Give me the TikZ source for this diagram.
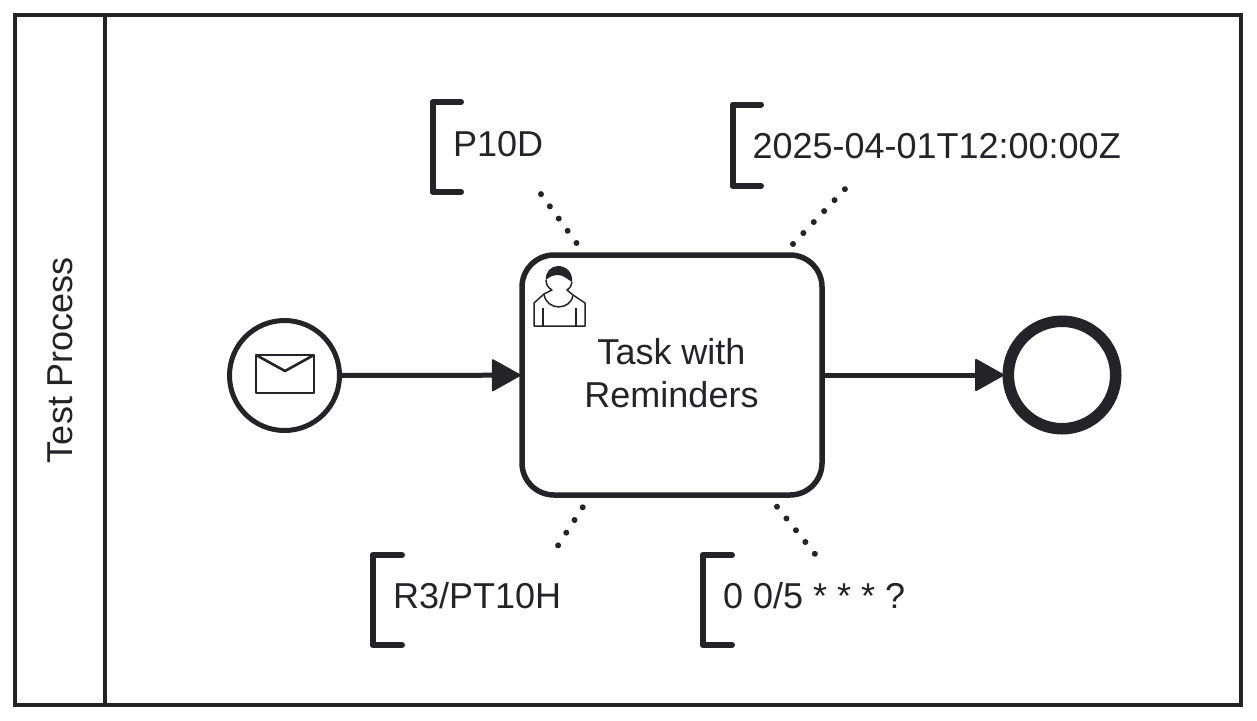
\documentclass[tikz,border=0pt]{standalone}
\usepackage{fontspec}
\setmainfont{Liberation Sans}
\usetikzlibrary{arrows.meta}
\definecolor{ink}{HTML}{22242A}

\begin{document}
\begin{tikzpicture}[x=1pt,y=-1pt,
  every node/.style={text=ink,font=\fontsize{36}{43}\selectfont},
  event/.style={draw=ink,circle,minimum size=#1,inner sep=0pt},
  flow/.style={draw=ink,line width=5pt,shorten >=-1.5pt,-{Triangle[length=30pt,width=33pt,line width=2pt,round]}},
  bracket/.style={draw=ink,line width=6pt,line cap=round,line join=round},
  assoc/.style={draw=ink,line width=6pt,line cap=round,dash pattern=on 0.01pt off 15.09pt},
  icon/.style={draw=ink,line width=1.5pt,line join=round}]

  \useasboundingbox (0,0) rectangle (1257,720);

  % pool
  \node [draw=ink,line width=4.5pt,minimum width=1226pt,minimum height=690pt,inner sep=0pt] (pool) at (628,360) {};
  \draw [draw=ink,line width=4.5pt] (pool.north west -| 105,0) -- (pool.south west -| 105,0);
  \node [rotate=90] (poolname) at (60,360) {Test Process};

  % flow elements
  \node [event=110pt,line width=5pt] (start) at (284.5,375.5) {};
  \node [draw=ink,line width=5.5pt,rounded corners=32pt,minimum width=300pt,minimum height=240pt,inner sep=0pt] (task) at (672,375) {};
  \node [align=center] (taskname) at (671.5,373) {Task with\\Reminders};
  \node [event=107.5pt,line width=11.5pt] (end) at (1062,375) {};
  \draw [flow] (start) -- (task);
  \draw [flow] (task) -- (end);

  % envelope
  \draw [icon,line width=2.6pt] (256,355) rectangle (314,393);
  \draw [icon,line width=2.6pt] (256,355) -- (285,371) -- (314,355);

  % user
  \fill [ink] (546,280) .. controls (545,272) and (551,266) .. (558,266) .. controls (566,266) and (573,272) .. (572,282) .. controls (567,279) and (563,275) .. (558,275) .. controls (553,275) and (549,277) .. (546,280) -- cycle;
  \draw [icon] (546,280) .. controls (546,284) and (548,288) .. (552,290) -- (544,294) -- (534,303) -- (534,326) -- (585,326) -- (585,303) -- (573,295) -- (567,290) .. controls (570,288) and (572,285) .. (572,282);
  \draw [icon] (544,294) .. controls (546,311) and (571,311) .. (573,295);
  \draw [icon] (543,308) -- (543,326) (576,308) -- (576,326);

  % annotations
  \node [anchor=west] (durlabel) at (449.5,144) {P10D};
  \node [anchor=west] (datelabel) at (749,146) {2025-04-01T12:00:00Z};
  \node [anchor=west] (cyclelabel) at (389.5,596) {R3/PT10H};
  \node [anchor=west] (cronlabel) at (719.5,596) {0 0/5 * * * ?};

  \draw [bracket] (461,102) -- (432.5,102) -- (432.5,192) -- (461,192);
  \draw [bracket] (761,104.5) -- (732.5,104.5) -- (732.5,186) -- (761,186);
  \draw [bracket] (402,555) -- (372.5,555) -- (372.5,645) -- (402,645);
  \draw [bracket] (732,555) -- (702.5,555) -- (702.5,645) -- (732,645);

  \coordinate (durtask) at (576.5,243);
  \coordinate (datetask) at (793,244);
  \coordinate (cycletask) at (582.7,507.3);
  \coordinate (crontask) at (777,506.7);
  \coordinate (durend) at (540.5,193.5);
  \coordinate (dateend) at (845.5,188.5);
  \coordinate (cycleend) at (558,545.5);
  \coordinate (cronend) at (815,554);
  \draw [assoc] (durtask) -- (durend);
  \draw [assoc] (datetask) -- (dateend);
  \draw [assoc] (cycletask) -- (cycleend);
  \draw [assoc] (crontask) -- (cronend);
\end{tikzpicture}
\end{document}
